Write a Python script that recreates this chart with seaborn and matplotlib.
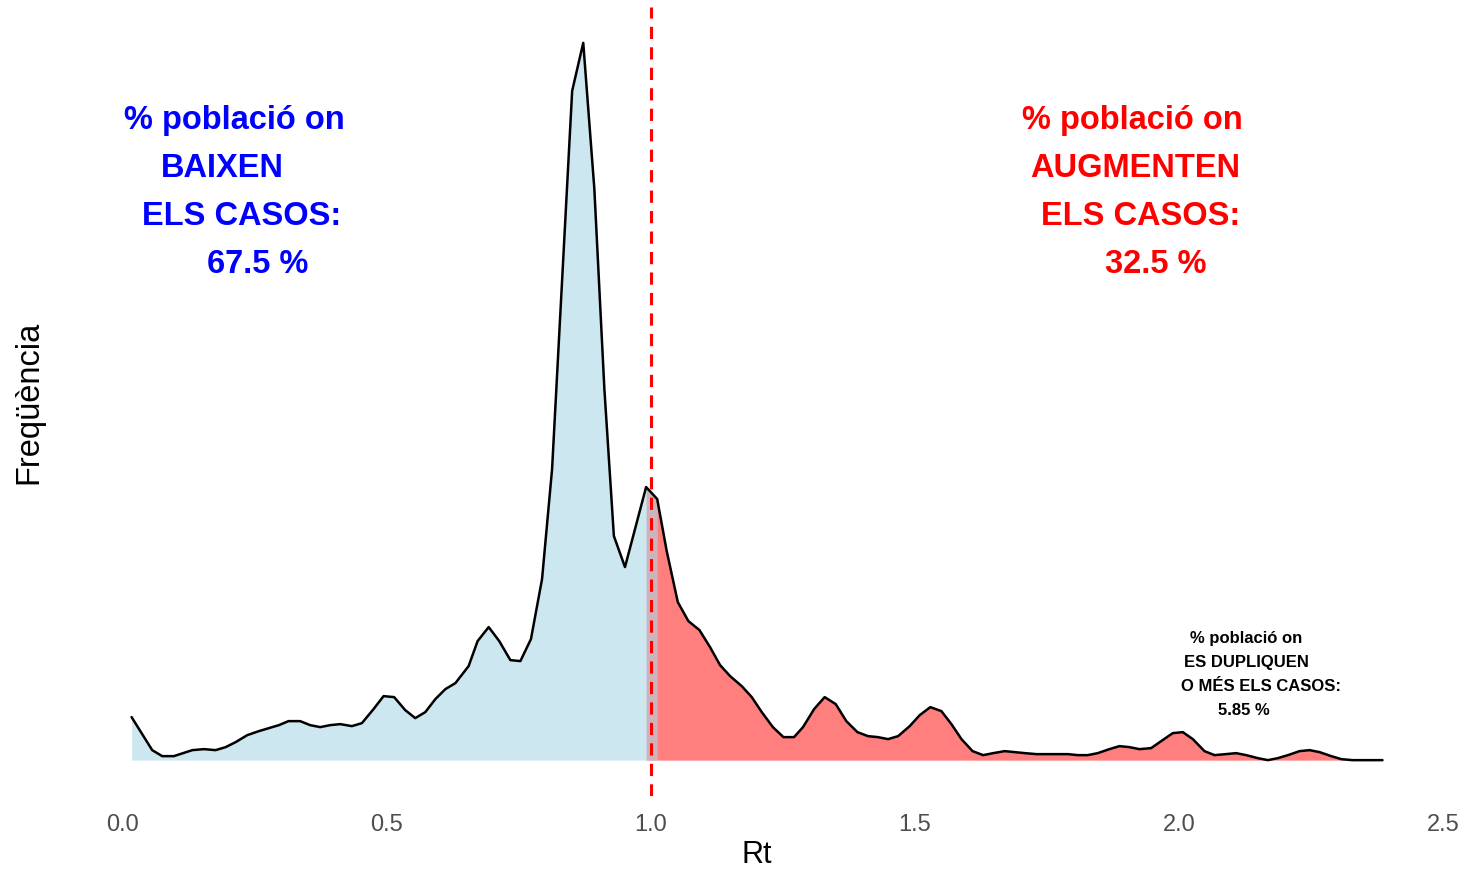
import numpy as np
import pandas as pd
import matplotlib.pyplot as plt
import seaborn as sns

# Rt values and frequency
rt = [0.017, 0.056, 0.075, 0.097, 0.132, 0.154, 0.176, 0.195, 0.214, 0.236,
      0.258, 0.277, 0.296, 0.314, 0.336, 0.355, 0.374, 0.393, 0.412, 0.434,
      0.453, 0.475, 0.494, 0.514, 0.535, 0.554, 0.573, 0.592, 0.611, 0.630,
      0.655, 0.672, 0.693, 0.713, 0.734, 0.753, 0.773, 0.794, 0.813, 0.851,
      0.872, 0.893, 0.912, 0.930, 0.951, 0.991, 1.012, 1.030, 1.051, 1.071,
      1.092, 1.112, 1.131, 1.150, 1.172, 1.191, 1.210, 1.231, 1.251, 1.271,
      1.288, 1.309, 1.329, 1.350, 1.370, 1.391, 1.411, 1.430, 1.449, 1.468,
      1.490, 1.509, 1.529, 1.550, 1.569, 1.588, 1.609, 1.629, 1.648, 1.670,
      1.689, 1.708, 1.730, 1.749, 1.771, 1.790, 1.808, 1.827, 1.846, 1.868,
      1.887, 1.906, 1.925, 1.947, 1.966, 1.988, 2.007, 2.026, 2.048, 2.067,
      2.088, 2.108, 2.127, 2.149, 2.168, 2.187, 2.206, 2.228, 2.247, 2.266,
      2.288, 2.307, 2.328, 2.385]
freq = [0.43, 0.10, 0.04, 0.04, 0.10, 0.11, 0.10, 0.13, 0.18, 0.25,
        0.29, 0.32, 0.35, 0.39, 0.39, 0.35, 0.33, 0.35, 0.36, 0.34,
        0.37, 0.51, 0.64, 0.63, 0.50, 0.42, 0.48, 0.61, 0.71, 0.77,
        0.94, 1.19, 1.33, 1.19, 1.00, 0.99, 1.21, 1.81, 2.91, 6.69,
        7.17, 5.71, 3.71, 2.24, 1.93, 2.73, 2.61, 2.09, 1.58, 1.39,
        1.30, 1.13, 0.95, 0.84, 0.74, 0.63, 0.48, 0.33, 0.23, 0.23,
        0.33, 0.51, 0.63, 0.56, 0.39, 0.28, 0.24, 0.23, 0.21, 0.24,
        0.34, 0.45, 0.53, 0.49, 0.36, 0.21, 0.09, 0.05, 0.07, 0.09,
        0.08, 0.07, 0.06, 0.06, 0.06, 0.06, 0.05, 0.05, 0.07, 0.11,
        0.14, 0.13, 0.11, 0.12, 0.19, 0.27, 0.28, 0.21, 0.09, 0.05,
        0.06, 0.07, 0.05, 0.02, 0.00, 0.02, 0.05, 0.09, 0.10, 0.08,
        0.04, 0.01, 0.00, 0.00]

# annotation text
low_lines = ["% població on", "BAIXEN", "ELS CASOS:", "67.5 %"]
low_x = [0.002, 0.072, 0.036, 0.159]
high_lines = ["% població on", "AUGMENTEN", "ELS CASOS:", "32.5 %"]
high_x = [1.703, 1.719, 1.738, 1.859]
big_y = [0.857, 0.797, 0.736, 0.675]
dbl_lines = ["% població on", "ES DUPLIQUEN", "O MÉS ELS CASOS:", "5.85 %"]
dbl_x = [2.020, 2.010, 2.003, 2.073]
dbl_y = [0.201, 0.170, 0.140, 0.110]

df = pd.DataFrame({"Rt": rt, "freq": freq})

sns.set_theme(style="white")
plt.rcParams['font.family'] = ['Liberation Sans', 'DejaVu Sans']

fig = plt.figure(figsize=(14.66, 8.7), dpi=100)
ax = fig.add_axes([0.0471, 0.0839, 0.9386, 0.9069])

x = df["Rt"].to_numpy()
y = df["freq"].to_numpy()
first_above = x[x >= 1].min()
last_below = x[x < 1].max()
red = x >= last_below
blue = x <= first_above

ax.fill_between(x[red], 0, y[red], color="red", alpha=0.5, linewidth=0)
ax.fill_between(x[blue], 0, y[blue], color="lightblue", alpha=0.6, linewidth=0)
sns.lineplot(data=df, x="Rt", y="freq", color="black", linewidth=1.8, ax=ax)
ax.axvline(1.0, color="red", linestyle=(0, (4, 2.7)), linewidth=2.2)

rng = x.max() - x.min()
ax.set_xlim(x.min() - 0.05 * rng, x.max() + 0.05 * rng)
ax.set_ylim(-0.05 * max(y), max(y) * 1.05)

ax.set_xticks([0.0, 0.5, 1.0, 1.5, 2.0, 2.5])
ax.set_xticklabels(["0.0", "0.5", "1.0", "1.5", "2.0", "2.5"])
ax.set_yticks([])
ax.tick_params(axis="x", length=0, pad=12, labelsize=17, labelcolor="#4D4D4D")
ax.set_xlabel("Rt", fontsize=22, labelpad=3, color="black")
ax.set_ylabel("Freqüència", fontsize=23.5, labelpad=18, color="black")
sns.despine(ax=ax, left=True, bottom=True)

tr = ax.get_xaxis_transform()
for txt, xx, yy in zip(low_lines, low_x, big_y):
    ax.text(xx, yy, txt, transform=tr, color="blue", fontsize=23.5,
            fontweight="bold", ha="left", va="center")
for txt, xx, yy in zip(high_lines, high_x, big_y):
    ax.text(xx, yy, txt, transform=tr, color="red", fontsize=23.5,
            fontweight="bold", ha="left", va="center")
for txt, xx, yy in zip(dbl_lines, dbl_x, dbl_y):
    ax.text(xx, yy, txt, transform=tr, color="black", fontsize=12,
            fontweight="bold", ha="left", va="center")

plt.savefig("out.png", dpi=100)
